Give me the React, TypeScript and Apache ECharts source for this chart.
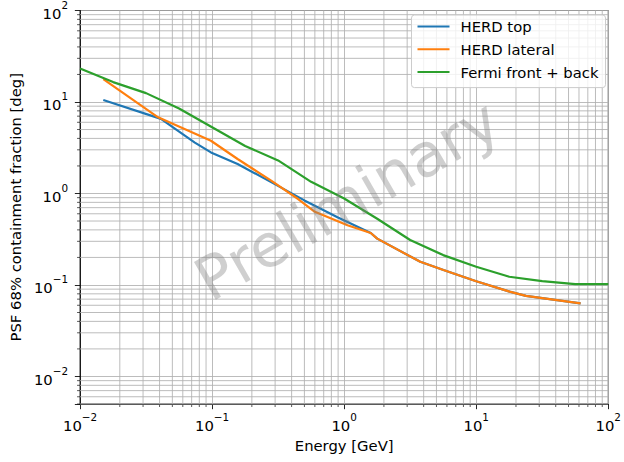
import React, { useEffect, useRef } from "react";
import * as echarts from "echarts";

// ---- data ----
const herdTopEnergy = [0.015, 0.035, 0.0415, 0.074, 0.098, 0.156, 0.28, 0.5, 0.89, 1.59, 1.78, 3.77, 5.65, 10, 17.9, 23.8, 61.7];
const herdTopPsf = [10.5, 7.05, 6.47, 3.6, 2.81, 2.1, 1.33, 0.84, 0.55, 0.37, 0.321, 0.179, 0.146, 0.11, 0.0845, 0.076, 0.063];

const herdLatEnergy = [0.015, 0.039, 0.098, 0.156, 0.28, 0.448, 0.6, 1.06, 1.59, 1.78, 3.77, 5.65, 10, 17.9, 23.8, 61.7];
const herdLatPsf = [17.8, 6.8, 3.77, 2.38, 1.38, 0.87, 0.63, 0.45, 0.37, 0.321, 0.179, 0.146, 0.11, 0.0845, 0.076, 0.063];

const fermiEnergy = [0.01, 0.0178, 0.0316, 0.0562, 0.1, 0.178, 0.316, 0.562, 1.0, 1.78, 3.16, 5.62, 10, 17.8, 31.6, 56.2, 100];
const fermiPsf = [23.2, 16.5, 12.5, 8.5, 5.3, 3.3, 2.3, 1.34, 0.88, 0.53, 0.31, 0.212, 0.158, 0.123, 0.11, 0.102, 0.102];

const seriesNames = ["HERD top", "HERD lateral", "Fermi front + back"];
const seriesColors = ["#1f77b4", "#ff7f0e", "#2ca02c"];

const xMin = 0.01;
const xMax = 100;
const yMin = 0.005;
const yMax = 100;

const minorMultipliers = [2, 3, 4, 5, 6, 7, 8, 9];
const xDecades = [0.01, 0.1, 1, 10];
const yDecades = [0.001, 0.01, 0.1, 1, 10];

const xMinorTicks = xDecades.flatMap((d) => minorMultipliers.map((m) => +(m * d).toPrecision(6)));
const yMinorTicks = yDecades
  .flatMap((d) => minorMultipliers.map((m) => +(m * d).toPrecision(6)))
  .filter((v) => v >= yMin && v <= yMax);

const FONT = "DejaVu Sans";
const FS = 14.8;
const GRID_COLOR = "#b0b0b0";

function powLabel(value: number): string {
  const e = Math.log10(value);
  const r = Math.round(e);
  if (Math.abs(e - r) > 1e-6) return "";
  const exp = r < 0 ? "\u2212" + String(-r) : String(r);
  return "{b|10}{s|" + exp + "}";
}

const richLabel = {
  b: { fontSize: FS, fontFamily: FONT, color: "#000", lineHeight: 21, verticalAlign: "bottom" },
  s: { fontSize: 10.4, fontFamily: FONT, color: "#000", lineHeight: 10, verticalAlign: "top" },
};

export default function App() {
  const ref = useRef<HTMLDivElement>(null);

  useEffect(() => {
    document.body.style.margin = "0";
    if (!ref.current) return;
    const chart = echarts.init(ref.current, undefined, { renderer: "svg" });

    const pair = (xs: number[], ys: number[]) => xs.map((x, i) => [x, ys[i]]);

    const option: any = {
      animation: false,
      backgroundColor: "#ffffff",
      textStyle: { fontFamily: FONT },
      grid: {
        left: 80,
        top: 7.5,
        width: 533,
        height: 396.5,
        show: true,
        borderColor: "#000",
        borderWidth: 0.85,
        backgroundColor: "transparent",
      },
      xAxis: {
        type: "log",
        logBase: 10,
        min: xMin,
        max: xMax,
        name: "Energy [GeV]",
        nameLocation: "middle",
        nameGap: 28,
        nameTextStyle: { fontSize: FS, fontFamily: FONT, color: "#000" },
        axisLine: { show: true, lineStyle: { color: "#000", width: 0.85 } },
        axisTick: { show: true, inside: false, length: 5.2, lineStyle: { color: "#000", width: 0.85 } },
        axisLabel: { formatter: powLabel, rich: richLabel, margin: 8, showMinLabel: true, showMaxLabel: true },
        splitLine: { show: true, lineStyle: { color: GRID_COLOR, width: 0.85 } },
      },
      yAxis: {
        type: "log",
        logBase: 10,
        min: yMin,
        max: yMax,
        name: "PSF 68% containment fraction [deg]",
        nameLocation: "middle",
        nameGap: 52,
        nameTextStyle: { fontSize: FS, fontFamily: FONT, color: "#000" },
        axisLine: { show: true, lineStyle: { color: "#000", width: 0.85 } },
        axisTick: { show: true, inside: false, length: 5.2, lineStyle: { color: "#000", width: 0.85 } },
        axisLabel: { formatter: powLabel, rich: richLabel, margin: 12, showMinLabel: true, showMaxLabel: true },
        splitLine: { show: true, lineStyle: { color: GRID_COLOR, width: 0.85 } },
      },
      legend: {
        data: seriesNames,
        orient: "vertical",
        left: 411.5,
        top: 15,
        padding: [3, 7, 7, 6],
        itemWidth: 32,
        itemHeight: 2,
        itemGap: 5.8,
        icon: "rect",
        backgroundColor: "rgba(255,255,255,0.8)",
        borderColor: "#cccccc",
        borderWidth: 1,
        borderRadius: 3,
        textStyle: { fontSize: FS, fontFamily: FONT, color: "#000", lineHeight: 17, padding: [0, 0, 0, 6] },
        selectedMode: false,
        z: 10,
      },
      graphic: [
        {
          type: "text",
          x: 347,
          y: 200,
          rotation: (30 * Math.PI) / 180,
          z: 8,
          silent: true,
          style: {
            text: "Preliminary",
            fontSize: 60,
            fontFamily: FONT,
            fill: "rgba(128,128,128,0.38)",
            align: "center",
            verticalAlign: "middle",
          },
        },
      ],
      series: [
        {
          type: "custom",
          name: "xminor",
          silent: true,
          z: 1,
          data: xMinorTicks.map((v) => [v, 1]),
          renderItem: (params: any, api: any) => {
            const cs = params.coordSys;
            const p = api.coord([api.value(0), 1]);
            const bottom = cs.y + cs.height;
            return {
              type: "group",
              children: [
                { type: "line", shape: { x1: p[0], y1: cs.y, x2: p[0], y2: bottom }, style: { stroke: GRID_COLOR, lineWidth: 0.85 } },
                { type: "line", shape: { x1: p[0], y1: bottom, x2: p[0], y2: bottom + 3 }, style: { stroke: "#000", lineWidth: 0.65 } },
              ],
            };
          },
        },
        {
          type: "custom",
          name: "yminor",
          silent: true,
          z: 1,
          data: yMinorTicks.map((v) => [1, v]),
          renderItem: (params: any, api: any) => {
            const cs = params.coordSys;
            const p = api.coord([1, api.value(1)]);
            return {
              type: "group",
              children: [
                { type: "line", shape: { x1: cs.x, y1: p[1], x2: cs.x + cs.width, y2: p[1] }, style: { stroke: GRID_COLOR, lineWidth: 0.85 } },
                { type: "line", shape: { x1: cs.x - 3, y1: p[1], x2: cs.x, y2: p[1] }, style: { stroke: "#000", lineWidth: 0.65 } },
              ],
            };
          },
        },
        {
          type: "line",
          name: seriesNames[0],
          data: pair(herdTopEnergy, herdTopPsf),
          showSymbol: false,
          symbol: "none",
          z: 3,
          color: seriesColors[0],
          lineStyle: { color: seriesColors[0], width: 2.2 },
        },
        {
          type: "line",
          name: seriesNames[1],
          data: pair(herdLatEnergy, herdLatPsf),
          showSymbol: false,
          symbol: "none",
          z: 3,
          color: seriesColors[1],
          lineStyle: { color: seriesColors[1], width: 2.2 },
        },
        {
          type: "line",
          name: seriesNames[2],
          data: pair(fermiEnergy, fermiPsf),
          showSymbol: false,
          symbol: "none",
          z: 3,
          color: seriesColors[2],
          lineStyle: { color: seriesColors[2], width: 2.2 },
        },
      ],
    };

    chart.setOption(option);
    return () => {
      chart.dispose();
    };
  }, []);

  return <div ref={ref} style={{ width: 624, height: 462 }} />;
}
